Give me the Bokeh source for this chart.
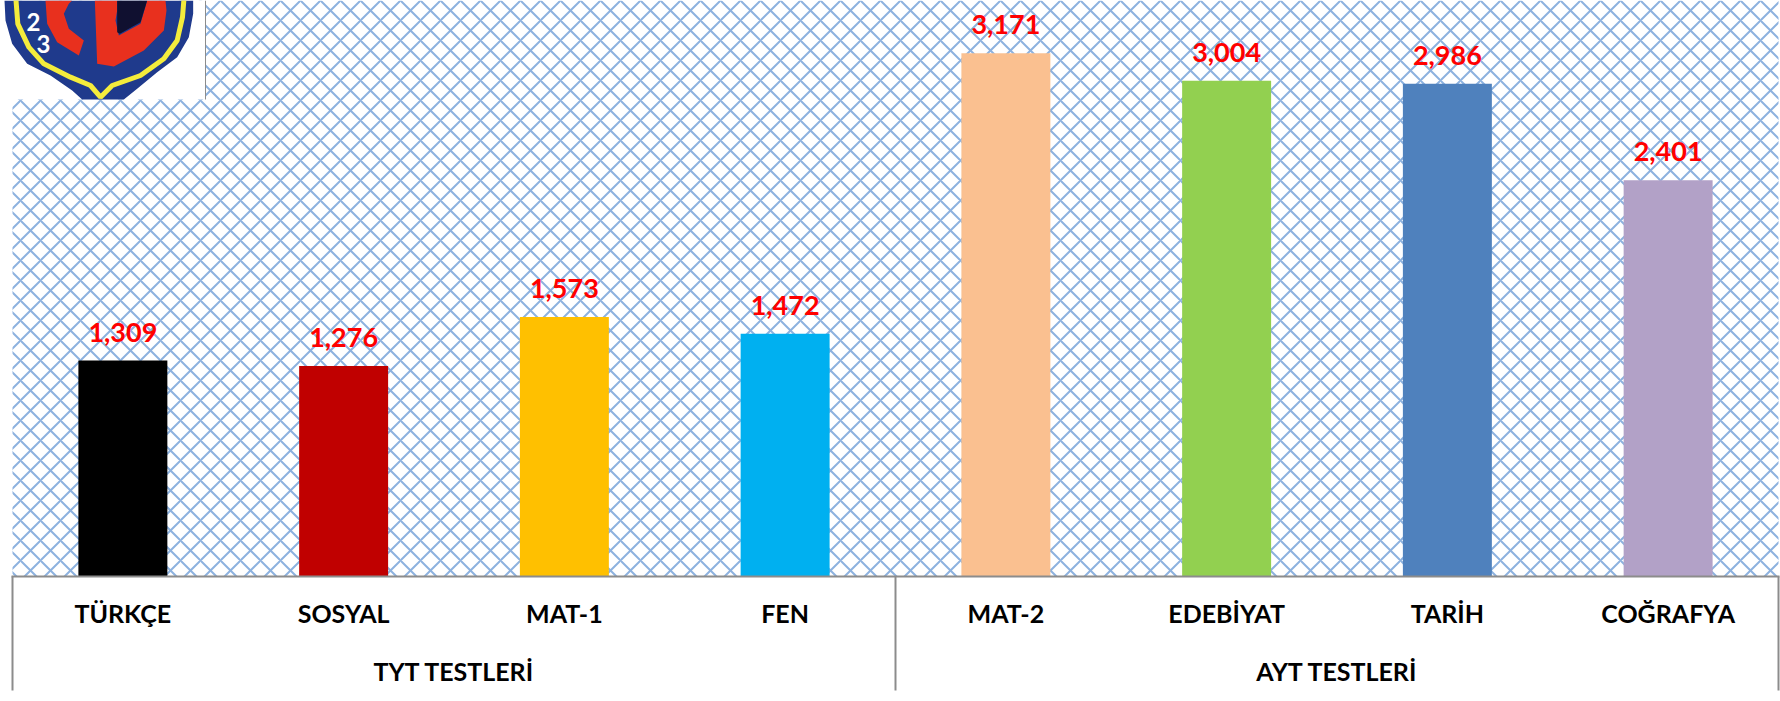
from bokeh.plotting import figure
from bokeh.models import FactorRange, Range1d, BoxAnnotation, PolyAnnotation, Label, ColumnDataSource
from bokeh.core.properties import value
from bokeh.embed import file_html
from bokeh.resources import INLINE

tests = ["TÜRKÇE", "SOSYAL", "MAT-1", "FEN", "MAT-2", "EDEBİYAT", "TARİH", "COĞRAFYA"]
values = [1309, 1276, 1573, 1472, 3171, 3004, 2986, 2401]
labels = ["1,309", "1,276", "1,573", "1,472", "3,171", "3,004", "2,986", "2,401"]
colors = ["#000000", "#C00000", "#FFC000", "#00B0F0", "#FAC090", "#92D050", "#4F81BD", "#B2A1C7"]
group_names = ["TYT TESTLERİ", "AYT TESTLERİ"]
group_centers = [("SOSYAL", 0.5), ("EDEBİYAT", 0.5)]

FONT = "Lato"
GRAY = "#8C8C8C"
src = ColumnDataSource(dict(x=tests, top=values, label=labels, color=colors))

p = figure(width=1790, height=701, output_backend="svg", toolbar_location=None,
           x_range=FactorRange(*tests, factor_padding=0, range_padding=12 / 220.75, range_padding_units="absolute"),
           y_range=Range1d(-757.6, 3491),
           min_border_left=0, min_border_right=0, min_border_top=0, min_border_bottom=0,
           background_fill_color="white", border_fill_color="white", outline_line_color=None)

p.add_layout(BoxAnnotation(left=12, right=1778, top=0, bottom=576,
                           left_units="canvas", right_units="canvas", top_units="canvas", bottom_units="canvas",
                           fill_color="white", fill_alpha=1, line_color=None,
                           hatch_pattern="diagonal_cross", hatch_color="#8DB2DF",
                           hatch_scale=20, hatch_weight=2, level="underlay"))

p.vbar(x="x", top="top", width=0.403, fill_color="color", line_color=None, source=src)
p.text(x="x", y="top", text="label", source=src, text_color="#FF0000",
       text_font=value(FONT), text_font_style="bold", text_font_size="27px",
       text_align="center", text_baseline="bottom", y_offset=-19)
p.text(x=group_centers, y=[0, 0], text=group_names, text_color="#000000",
       text_font=value(FONT), text_font_style="bold", text_font_size="25px",
       text_align="center", text_baseline="middle", y_offset=95)

p.yaxis.visible = False
p.grid.visible = False
ax = p.xaxis[0]
ax.fixed_location = 0
ax.axis_line_color = None
ax.major_tick_line_color = None
ax.minor_tick_line_color = None
ax.major_label_orientation = "horizontal"
ax.major_label_standoff = 16
ax.major_label_text_font = FONT
ax.major_label_text_font_style = "bold"
ax.major_label_text_font_size = "25px"
ax.major_label_text_color = "#000000"


def poly(xs, ys, fill, line=None, lw=0, falpha=1):
    p.add_layout(PolyAnnotation(xs=xs, ys=ys, xs_units="canvas", ys_units="canvas",
                                fill_color=fill, fill_alpha=falpha, line_color=line, line_alpha=1,
                                line_width=lw, level="overlay"))


def poly3(xs, ys, fill, line=None, lw=0, falpha=1):
    poly([v / 3 for v in xs], [v / 3 for v in ys], fill, line, lw, falpha)


# axis line and separators
poly([11, 1779, 1779, 11], [575, 575, 577, 577], GRAY)
for xx in (12, 895, 1778):
    poly([xx - 1, xx + 1, xx + 1, xx - 1], [576, 576, 690, 690], GRAY)

# logo
poly3([0, 615, 615, 0], [0, 0, 297, 297], "white")
poly([204.5, 205.5, 205.5, 204.5], [0, 0, 99, 99], GRAY)
poly3([12, 15, 35, 80, 150, 215, 245, 370, 410, 470, 530, 565, 578, 578],
      [0, 60, 130, 190, 225, 270, 297, 297, 265, 215, 170, 110, 40, 0], "#1F3A8C")
poly3([45, 52, 85, 130, 210, 270, 300, 335, 420, 490, 530, 546, 550, 550, 45],
      [-20, 70, 140, 190, 230, 255, 290, 255, 225, 175, 120, 50, 0, -20, -20], "#1F3A8C", "#F4EC3C", 5, 0)
poly3([135, 140, 170, 235, 250, 205, 190, 205, 215], [0, 70, 125, 165, 120, 85, 40, 10, 0], "#E8301E")
poly3([283, 290, 340, 430, 490, 498, 495, 440, 420, 355, 345, 350, 350],
      [0, 190, 198, 150, 90, 30, 0, 0, 70, 105, 60, 30, 0], "#E8301E")
poly3([350, 350, 358, 420, 440], [0, 95, 100, 65, 0], "#101030")

for t, x, y in (("2", 33, 21), ("3", 43, 43)):
    p.add_layout(Label(x=x, y=701 - y, x_units="screen", y_units="screen", text=t, text_color="white",
                       text_font=FONT, text_font_style="bold", text_font_size="24px",
                       text_align="center", text_baseline="middle", level="overlay"))

html = file_html(p, INLINE)
html = html.replace("<head>", "<head><style>html,body{margin:0;padding:0;overflow:hidden}</style>", 1)
open("out.html", "w").write(html)
